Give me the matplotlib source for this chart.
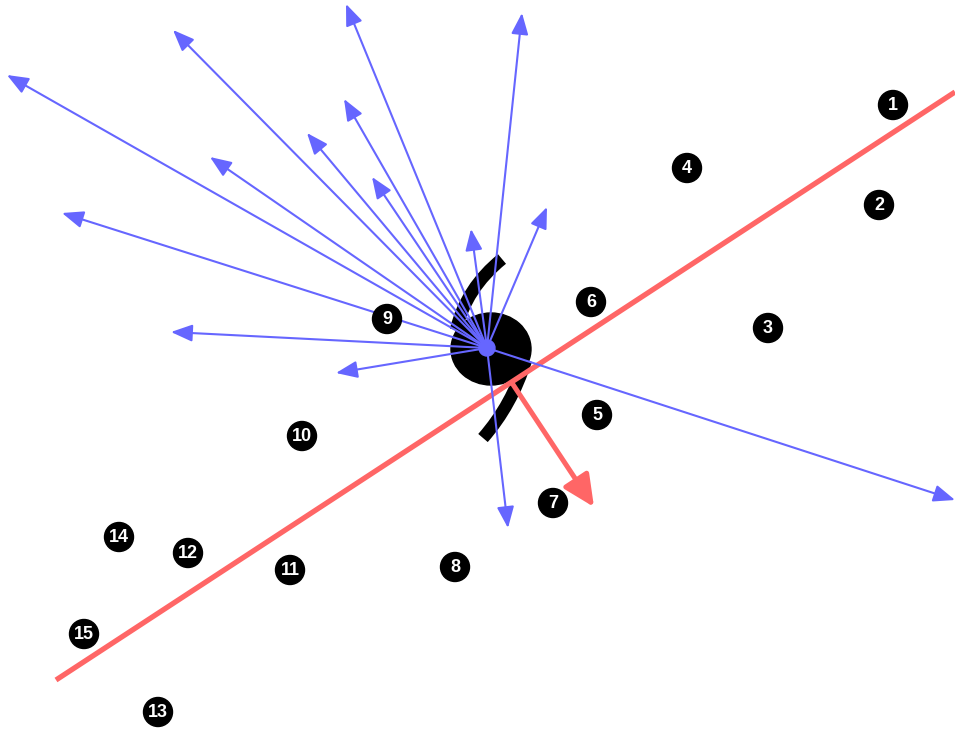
import numpy as np
import matplotlib.pyplot as plt
from matplotlib.patches import FancyArrowPatch, Circle, Ellipse
from matplotlib.path import Path
from matplotlib.patches import PathPatch

# Labelled sample points (canvas pixel coordinates, y grows downward)
labels = [str(i) for i in range(1, 16)]
pts_x = [893, 879, 768, 687, 597, 591, 553, 455, 387, 302, 290, 188, 158, 119, 84]
pts_y = [105, 205, 328, 168, 415, 302, 503, 567, 319, 436, 570, 553, 712, 537, 634]

# Query point and the vectors drawn from it
center = (487, 348)
vec_x = [7, 173, 346, 522, 344, 307, 210, 372, 62, 471, 547, 171, 336, 955, 508]
vec_y = [75, 30, 4, 13, 99, 133, 157, 177, 213, 229, 207, 332, 373, 500, 528]

# Separating line and its normal
line_x = [56, 955]
line_y = [680, 92]
normal_start = (512, 383)
normal_end = (594, 507)

BLUE = '#6666ff'
RED = '#ff6666'

fig = plt.figure(figsize=(9.55, 7.29), dpi=100)
ax = fig.add_axes([0, 0, 1, 1])
ax.set_xlim(0, 955)
ax.set_ylim(729, 0)
ax.axis('off')

# black curl glyph behind the vectors
ax.add_patch(Ellipse((491, 349), 80, 72, color='black', zorder=1))
top = Path([(502, 259), (466, 288), (456, 330)], [Path.MOVETO, Path.CURVE3, Path.CURVE3])
ax.add_patch(PathPatch(top, fill=False, lw=9, color='black', capstyle='butt', zorder=1))
tail = Path([(526, 360), (512, 405), (483, 438)], [Path.MOVETO, Path.CURVE3, Path.CURVE3])
ax.add_patch(PathPatch(tail, fill=False, lw=9, color='black', capstyle='butt', zorder=1))

# decision line
ax.plot(line_x, line_y, color=RED, lw=3.8, solid_capstyle='butt', zorder=2)

# blue vectors
for x, y in zip(vec_x, vec_y):
    ax.add_patch(FancyArrowPatch(center, (x, y), arrowstyle='-|>,head_length=0.65,head_width=0.26',
                                 mutation_scale=20, color=BLUE, lw=1.5,
                                 shrinkA=0, shrinkB=0, zorder=3))
ax.add_patch(Circle(center, 8, color=BLUE, zorder=4))

# normal vector
ax.add_patch(FancyArrowPatch(normal_start, normal_end, arrowstyle='-|>,head_length=0.95,head_width=0.45',
                             mutation_scale=20, color=RED, lw=3.6,
                             shrinkA=0, shrinkB=0, zorder=3))

# numbered points
for lab, x, y in zip(labels, pts_x, pts_y):
    ax.add_patch(Circle((x, y), 14.5, color='black', zorder=5))
    ax.text(x, y + 0.5, lab, color='white', fontsize=13, fontweight='bold',
            family='Liberation Sans', ha='center', va='center', zorder=6)

fig.savefig('out.png', dpi=100)
